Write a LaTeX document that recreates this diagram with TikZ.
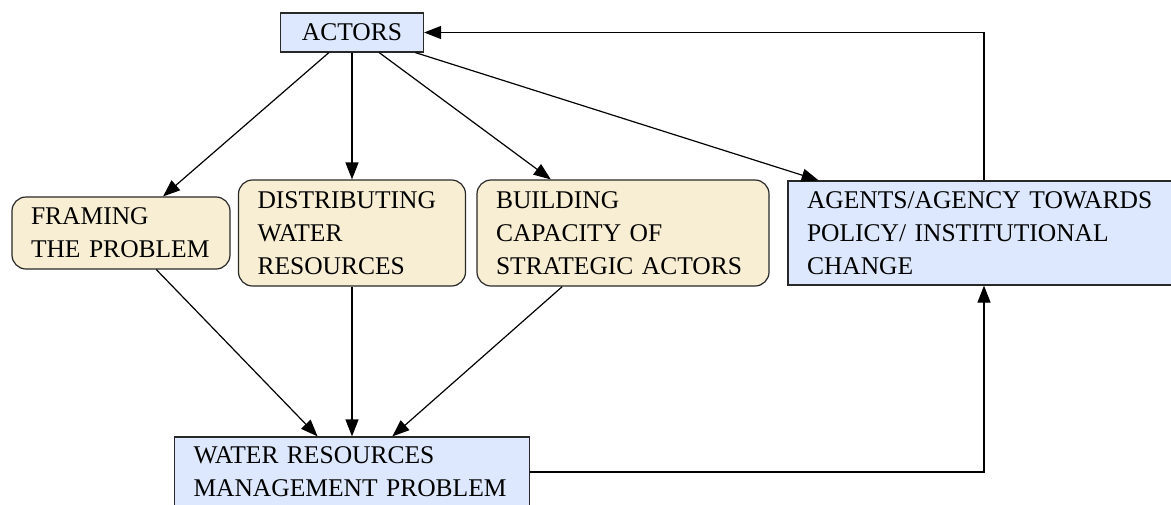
\documentclass[tikz,border=0pt]{standalone}
\usepackage{fontspec}
\setmainfont{Liberation Serif}
\usepackage{tikz}
\usetikzlibrary{graphs}
\usetikzlibrary {arrows.meta}
\definecolor{bluefill}{RGB}{221,231,253}
\definecolor{sandfill}{RGB}{248,238,211}
\definecolor{edgegray}{RGB}{40,40,40}

\begin{document}
\begin{tikzpicture}[x=1pt,y=-1pt,>={Triangle[length=17pt,width=13pt]},
        box/.style={draw=edgegray, line width=1.2pt, fill=bluefill, inner xsep=19pt,
            inner ysep=0pt, align=left, font=\fontsize{25.5}{33.3}\selectfont},
        stage/.style={box, fill=sandfill, rounded corners=14pt}]
        \useasboundingbox (0,0) rectangle (1171,504);
        \node[box, minimum width=143pt, minimum height=39pt] (actors) at
        (352,32.5) {ACTORS}; \node[stage, text width=180pt, minimum
        height=72pt] (framing) at (121,233) {FRAMING\\THE~PROBLEM};
        \node[stage, text width=189pt, minimum height=106pt] (distributing) at
        (352,233) {DISTRIBUTING\\WATER\\RESOURCES}; \node[stage, text
        width=254pt, minimum height=106pt] (building) at (623,233)
        {BUILDING\\CAPACITY OF\\STRATEGIC ACTORS}; \node[box, text
        width=354pt, minimum height=104pt] (agents) at (984,233)
        {AGENTS/AGENCY TOWARDS\\POLICY/ INSTITUTIONAL\\CHANGE};
        \node[box, text width=317pt, minimum height=70pt] (wrm) at
        (352,472) {WATER RESOURCES\\MANAGEMENT~PROBLEM};

        \graph[edges={line width=1.2pt}] {(actors) -> (framing) -> (wrm);
            (actors) -> (distributing) -> (wrm); (actors) -> (building) ->
            (wrm); (actors) -> (agents);};
        \draw[->, line width=1.2pt] (wrm.east) -| (agents.south);
        \draw[->, line width=1.2pt] (agents.north) |- (actors.east);
    \end{tikzpicture}
\end{document}
